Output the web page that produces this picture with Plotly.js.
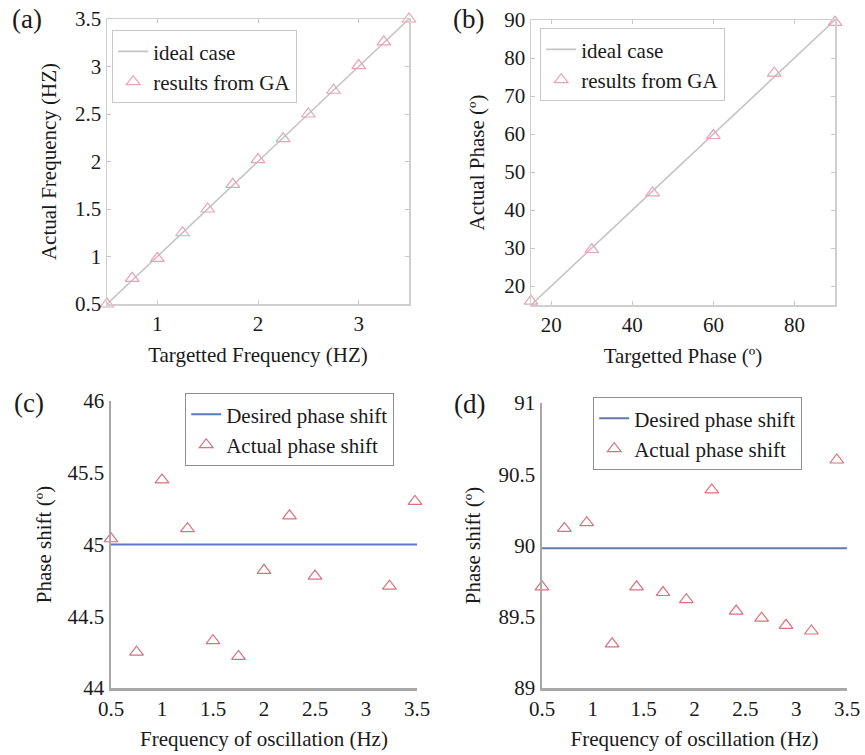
<!DOCTYPE html>
<html>
<head>
<meta charset="utf-8">
<script src="https://cdn.plot.ly/plotly-3.0.1.min.js"></script>
<style>html,body{margin:0;padding:0;background:#fff;}#chart{width:865px;height:755px;}</style>
</head>
<body>
<div id="chart"></div>
<script>
// ---- data ----
// (a) frequency tracking
const freqTarget = [0.5, 0.75, 1, 1.25, 1.5, 1.75, 2, 2.25, 2.5, 2.75, 3, 3.25, 3.5];
const freqActual = [0.5, 0.77, 0.98, 1.25, 1.5, 1.76, 2.02, 2.24, 2.5, 2.75, 3.01, 3.26, 3.5];
const freqIdeal = [0.5, 3.5];
// (b) phase tracking
const phaseTarget = [15, 30, 45, 60, 75, 90];
const phaseActual = [16, 29.6, 44.5, 59.6, 76, 89.4];
const phaseIdeal = [15, 90];
// (c) 45 deg phase shift
const freqC = [0.5, 0.75, 1, 1.25, 1.5, 1.75, 2, 2.25, 2.5, 3.23, 3.48];
const shiftC = [45.04, 44.25, 45.45, 45.11, 44.33, 44.22, 44.82, 45.2, 44.78, 44.71, 45.3];
const desiredC = [45, 45];
// (d) 90 deg phase shift
const freqD = [0.5, 0.72, 0.94, 1.19, 1.43, 1.69, 1.92, 2.17, 2.41, 2.66, 2.9, 3.15, 3.4];
const shiftD = [89.71, 90.12, 90.16, 89.31, 89.71, 89.67, 89.62, 90.39, 89.54, 89.49, 89.44, 89.4, 90.6];
const desiredD = [89.98, 89.98];
const lineX = [0.5, 3.5];
// tick labels
const ticksAy = [0.5, 1, 1.5, 2, 2.5, 3, 3.5];
const ticksAyText = ['0.5', '1', '1.5', '2', '2.5', '3', '3.5'];
const ticksAx = [1, 2, 3];
const ticksBy = [20, 30, 40, 50, 60, 70, 80, 90];
const ticksBx = [20, 40, 60, 80];
const ticksCDx = [0.5, 1, 1.5, 2, 2.5, 3, 3.5];
const ticksCDxText = ['0.5', '1', '1.5', '2', '2.5', '3', '3.5'];
const ticksCy = [44, 44.5, 45, 45.5, 46];
const ticksCyText = ['44', '44.5', '45', '45.5', '46'];
const ticksDy = [89, 89.5, 90, 90.5, 91];
const ticksDyText = ['89', '89.5', '90', '90.5', '91'];

// ---- helpers ----
const W = 865, H = 755;
const fx = p => p / W;
const fy = p => 1 - p / H;
const FONT = "'Liberation Serif', 'DejaVu Serif', serif";
const pinkLight = '#e6a3b6';
const pinkRed = '#d9717f';
const grayIdeal = '#c4c4c4';
const blueLineC = '#5a78c4';
const blueLineD = '#6479a8';

const traces = [
  {x: freqIdeal, y: freqIdeal, type: 'scatter', mode: 'lines', name: 'ideal case',
   line: {color: grayIdeal, width: 1.6}, xaxis: 'x', yaxis: 'y', legend: 'legend'},
  {x: freqTarget, y: freqActual, type: 'scatter', mode: 'markers', name: 'results from GA', cliponaxis: false,
   marker: {symbol: 'triangle-up-open', size: 12, color: pinkLight, line: {width: 1.2}},
   xaxis: 'x', yaxis: 'y', legend: 'legend'},
  {x: phaseIdeal, y: phaseIdeal, type: 'scatter', mode: 'lines', name: 'ideal case',
   line: {color: grayIdeal, width: 1.6}, xaxis: 'x2', yaxis: 'y2', legend: 'legend2'},
  {x: phaseTarget, y: phaseActual, type: 'scatter', mode: 'markers', name: 'results from GA', cliponaxis: false,
   marker: {symbol: 'triangle-up-open', size: 12, color: pinkLight, line: {width: 1.2}},
   xaxis: 'x2', yaxis: 'y2', legend: 'legend2'},
  {x: lineX, y: desiredC, type: 'scatter', mode: 'lines', name: 'Desired phase shift',
   line: {color: blueLineC, width: 2}, xaxis: 'x3', yaxis: 'y3', legend: 'legend3'},
  {x: freqC, y: shiftC, type: 'scatter', mode: 'markers', name: 'Actual phase shift', cliponaxis: false,
   marker: {symbol: 'triangle-up-open', size: 12, color: pinkRed, line: {width: 1.2}},
   xaxis: 'x3', yaxis: 'y3', legend: 'legend3'},
  {x: lineX, y: desiredD, type: 'scatter', mode: 'lines', name: 'Desired phase shift',
   line: {color: blueLineD, width: 2}, xaxis: 'x4', yaxis: 'y4', legend: 'legend4'},
  {x: freqD, y: shiftD, type: 'scatter', mode: 'markers', name: 'Actual phase shift', cliponaxis: false,
   marker: {symbol: 'triangle-up-open', size: 12, color: pinkRed, line: {width: 1.2}},
   xaxis: 'x4', yaxis: 'y4', legend: 'legend4'}
];

const tickFont = {family: FONT, size: 21, color: '#1a1a1a'};
const titleFont = {family: FONT, size: 21, color: '#1a1a1a'};

function boxAxis(extra) {
  return Object.assign({
    showline: true, mirror: 'ticks', linecolor: '#cfcfcf', linewidth: 1.5,
    ticks: 'inside', ticklen: 4, tickcolor: '#c8c8c8', tickwidth: 1,
    showgrid: false, zeroline: false, tickfont: tickFont, fixedrange: true
  }, extra);
}
function openAxis(extra) {
  return Object.assign({
    showline: true, mirror: false, linecolor: '#a8a8a8', linewidth: 2.5,
    ticks: '', showgrid: false, zeroline: false, tickfont: tickFont, fixedrange: true
  }, extra);
}
function legendAt(left, top, border) {
  return {
    x: fx(left), y: fy(top), xanchor: 'left', yanchor: 'top',
    xref: 'paper', yref: 'paper',
    bgcolor: '#ffffff', bordercolor: border, borderwidth: 1.2,
    font: {family: FONT, size: 21, color: '#1a1a1a'},
    tracegroupgap: 0, itemwidth: 30
  };
}

const layout = {
  width: W, height: H,
  margin: {l: 0, r: 0, t: 0, b: 0},
  paper_bgcolor: '#ffffff', plot_bgcolor: '#ffffff',
  showlegend: true,
  font: {family: FONT, size: 21, color: '#1a1a1a'},
  xaxis: boxAxis({domain: [fx(107), fx(409)], range: [0.5, 3.5], anchor: 'y',
    tickvals: ticksAx, ticktext: ticksAx.map(String),
    title: {text: 'Targetted Frequency (HZ)', font: titleFont, standoff: 12}}),
  yaxis: boxAxis({domain: [fy(304), fy(19)], range: [0.5, 3.5], anchor: 'x',
    tickvals: ticksAy, ticktext: ticksAyText,
    title: {text: 'Actual Frequency (HZ)', font: titleFont, standoff: 12}}),
  xaxis2: boxAxis({domain: [fx(531), fx(835)], range: [15, 90], anchor: 'y2',
    tickvals: ticksBx, ticktext: ticksBx.map(String),
    title: {text: 'Targetted Phase (º)', font: titleFont, standoff: 12}}),
  yaxis2: boxAxis({domain: [fy(305), fy(20)], range: [15, 90], anchor: 'x2',
    tickvals: ticksBy, ticktext: ticksBy.map(String),
    title: {text: 'Actual Phase (º)', font: titleFont, standoff: 14}}),
  xaxis3: openAxis({domain: [fx(111), fx(417)], range: [0.5, 3.5], anchor: 'y3',
    tickvals: ticksCDx, ticktext: ticksCDxText,
    title: {text: 'Frequency of oscillation (Hz)', font: titleFont, standoff: 12}}),
  yaxis3: openAxis({domain: [fy(688), fy(401)], range: [44, 46], anchor: 'x3',
    tickvals: ticksCy, ticktext: ticksCyText,
    title: {text: 'Phase shift (º)', font: titleFont, standoff: 10}}),
  xaxis4: openAxis({domain: [fx(542), fx(847)], range: [0.5, 3.5], anchor: 'y4',
    tickvals: ticksCDx, ticktext: ticksCDxText,
    title: {text: 'Frequency of oscillation (Hz)', font: titleFont, standoff: 12}}),
  yaxis4: openAxis({domain: [fy(688), fy(403)], range: [89, 91], anchor: 'x4',
    tickvals: ticksDy, ticktext: ticksDyText,
    title: {text: 'Phase shift (º)', font: titleFont, standoff: 12}}),
  legend: legendAt(112, 30, '#c8c8c8'),
  legend2: legendAt(540, 28, '#c8c8c8'),
  legend3: legendAt(185, 393, '#8f8f8f'),
  legend4: legendAt(593, 397, '#8f8f8f'),
  annotations: [
    {text: '(a)', x: fx(10), y: fy(2), xref: 'paper', yref: 'paper', xanchor: 'left', yanchor: 'top', showarrow: false, font: {family: FONT, size: 27, color: '#1a1a1a'}},
    {text: '(b)', x: fx(451), y: fy(2), xref: 'paper', yref: 'paper', xanchor: 'left', yanchor: 'top', showarrow: false, font: {family: FONT, size: 27, color: '#1a1a1a'}},
    {text: '(c)', x: fx(12), y: fy(386), xref: 'paper', yref: 'paper', xanchor: 'left', yanchor: 'top', showarrow: false, font: {family: FONT, size: 27, color: '#1a1a1a'}},
    {text: '(d)', x: fx(452), y: fy(387), xref: 'paper', yref: 'paper', xanchor: 'left', yanchor: 'top', showarrow: false, font: {family: FONT, size: 27, color: '#1a1a1a'}}
  ]
};

Plotly.newPlot('chart', traces, layout, {displayModeBar: false, staticPlot: true});
</script>
</body>
</html>
